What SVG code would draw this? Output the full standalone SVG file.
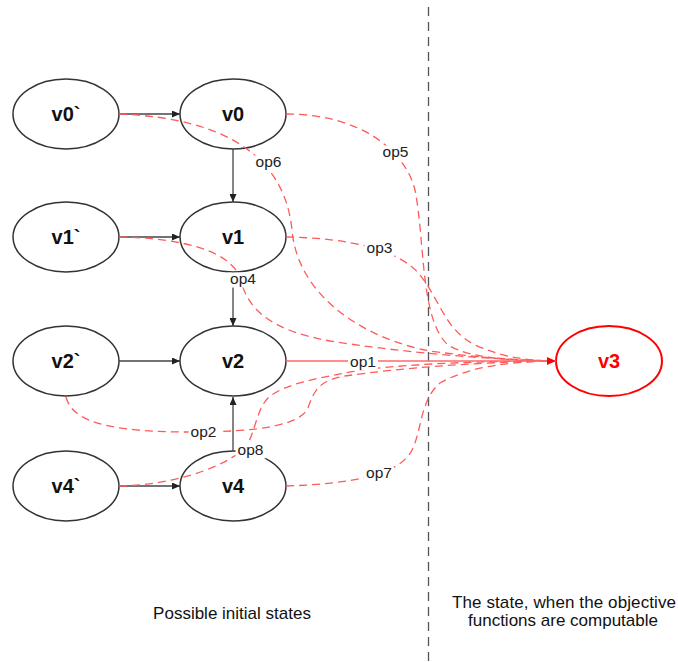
<svg xmlns="http://www.w3.org/2000/svg" width="678" height="662" viewBox="0 0 678 662">
  <style>
    .node { fill: #ffffff; stroke: #333333; stroke-width: 1.5; }
    .goal { fill: #ffffff; stroke: #ff0000; stroke-width: 2; }
    .name { font-family: "Liberation Sans", Arial, sans-serif; font-size: 20px; font-weight: bold; fill: #111111; text-anchor: middle; }
    .goal-name { fill: #ff0000; }
    .flow { fill: none; stroke: #444444; stroke-width: 1.3; }
    .op { fill: none; stroke: #ff5a5a; stroke-width: 1.3; stroke-dasharray: 8 5; }
    .op-solid { fill: none; stroke: #ff6a6a; stroke-width: 1.3; }
    .lbl-bg { fill: #ffffff; }
    .lbl { font-family: "Liberation Sans", Arial, sans-serif; font-size: 15.5px; fill: #222222; text-anchor: middle; }
    .divider { stroke: #555555; stroke-width: 1.3; stroke-dasharray: 9 6; }
    .caption { font-family: "Liberation Sans", Arial, sans-serif; font-size: 17px; fill: #111111; text-anchor: middle; }
  </style>
  <defs>
    <marker id="arrow-black" markerUnits="userSpaceOnUse" markerWidth="8" markerHeight="7" refX="8" refY="3.5" orient="auto">
      <path d="M0,0 L8,3.5 L0,7 z" fill="#222222"/>
    </marker>
    <marker id="arrow-red" markerUnits="userSpaceOnUse" markerWidth="9" markerHeight="8" refX="9" refY="4" orient="auto">
      <path d="M0,0 L9,4 L0,8 z" fill="#ff0000"/>
    </marker>
  </defs>

  <rect width="678" height="662" fill="#ffffff"/>

  <!-- region divider -->
  <line class="divider" x1="428.5" y1="7" x2="428.5" y2="662"/>

  <!-- nodes -->
  <g id="v0p"><ellipse class="node" cx="66" cy="114" rx="53" ry="35"/><text class="name" x="66" y="121">v0`</text></g>
  <g id="v1p"><ellipse class="node" cx="66" cy="237" rx="53" ry="35"/><text class="name" x="66" y="244">v1`</text></g>
  <g id="v2p"><ellipse class="node" cx="66" cy="361" rx="53" ry="35"/><text class="name" x="66" y="368">v2`</text></g>
  <g id="v4p"><ellipse class="node" cx="66" cy="486" rx="53" ry="35"/><text class="name" x="66" y="493">v4`</text></g>
  <g id="v0"><ellipse class="node" cx="233" cy="114" rx="53" ry="35"/><text class="name" x="233" y="121">v0</text></g>
  <g id="v1"><ellipse class="node" cx="233" cy="237" rx="53" ry="35"/><text class="name" x="233" y="244">v1</text></g>
  <g id="v2"><ellipse class="node" cx="233" cy="361" rx="53" ry="35"/><text class="name" x="233" y="368">v2</text></g>
  <g id="v4"><ellipse class="node" cx="233" cy="486" rx="53" ry="35"/><text class="name" x="233" y="493">v4</text></g>
  <g id="v3"><ellipse class="goal" cx="609" cy="361" rx="53" ry="35"/><text class="name goal-name" x="609" y="368">v3</text></g>

  <!-- connectors -->
  <g id="connectors">
    <!-- state transitions -->
    <line class="flow" x1="119" y1="114" x2="180" y2="114" marker-end="url(#arrow-black)"/>
    <line class="flow" x1="119" y1="237" x2="180" y2="237" marker-end="url(#arrow-black)"/>
    <line class="flow" x1="119" y1="361" x2="180" y2="361" marker-end="url(#arrow-black)"/>
    <line class="flow" x1="119" y1="486" x2="180" y2="486" marker-end="url(#arrow-black)"/>
    <line class="flow" x1="233" y1="149" x2="233" y2="202" marker-end="url(#arrow-black)"/>
    <line class="flow" x1="233" y1="272" x2="233" y2="326" marker-end="url(#arrow-black)"/>
    <line class="flow" x1="233" y1="451" x2="233" y2="397" marker-end="url(#arrow-black)"/>

    <!-- operations leading to v3 -->
    <path class="op" d="M119,114 C230,118 285,160 292,230 C298,300 370,340 430,351 C480,358 520,360 552,361"/>
    <path class="op" d="M286,114 C360,114 405,150 415,190 C425,240 420,320 448,345 C470,358 510,361 552,361"/>
    <path class="op" d="M286,237 C350,238 400,250 420,275 C440,300 445,330 475,345 C500,356 520,360 552,361"/>
    <path class="op" d="M119,237 C180,238 230,250 240,278 C248,310 270,330 330,341 C400,352 480,359 552,361"/>
    <path class="op" d="M66,397 C72,422 110,432 190,432 C260,432 300,425 308,408 C314,390 320,380 345,376 C400,368 480,362 552,361"/>
    <path class="op" d="M119,486 C170,485 220,470 245,448 C255,435 256,410 268,398 C285,383 320,378 360,370 C420,363 490,361 552,361"/>
    <path class="op" d="M286,486 C350,484 400,475 412,450 C422,430 420,400 440,383 C470,366 510,362 552,361"/>
    <line class="op-solid" x1="286" y1="361" x2="556" y2="361" marker-end="url(#arrow-red)"/>

    <!-- operation labels -->
    <rect class="lbl-bg" x="253.5" y="155.5" width="30" height="15"/><text class="lbl" x="268.5" y="167">op6</text>
    <rect class="lbl-bg" x="380.5" y="145.5" width="30" height="15"/><text class="lbl" x="395.5" y="157">op5</text>
    <rect class="lbl-bg" x="364.5" y="241.5" width="30" height="15"/><text class="lbl" x="379.5" y="253">op3</text>
    <rect class="lbl-bg" x="228" y="272.5" width="30" height="15"/><text class="lbl" x="243" y="284">op4</text>
    <rect class="lbl-bg" x="348" y="355.5" width="30" height="15"/><text class="lbl" x="363" y="367">op1</text>
    <rect class="lbl-bg" x="188.5" y="425.5" width="30" height="15"/><text class="lbl" x="203.5" y="437">op2</text>
    <rect class="lbl-bg" x="235.5" y="443.5" width="30" height="15"/><text class="lbl" x="250.5" y="455">op8</text>
    <rect class="lbl-bg" x="364" y="466.5" width="30" height="15"/><text class="lbl" x="379" y="478">op7</text>
  </g>

  <!-- region captions -->
  <text class="caption" x="232" y="619">Possible initial states</text>
  <text class="caption" x="564" y="608" textLength="224" lengthAdjust="spacing">The state, when the objective</text>
  <text class="caption" x="563" y="626">functions are computable</text>
</svg>
